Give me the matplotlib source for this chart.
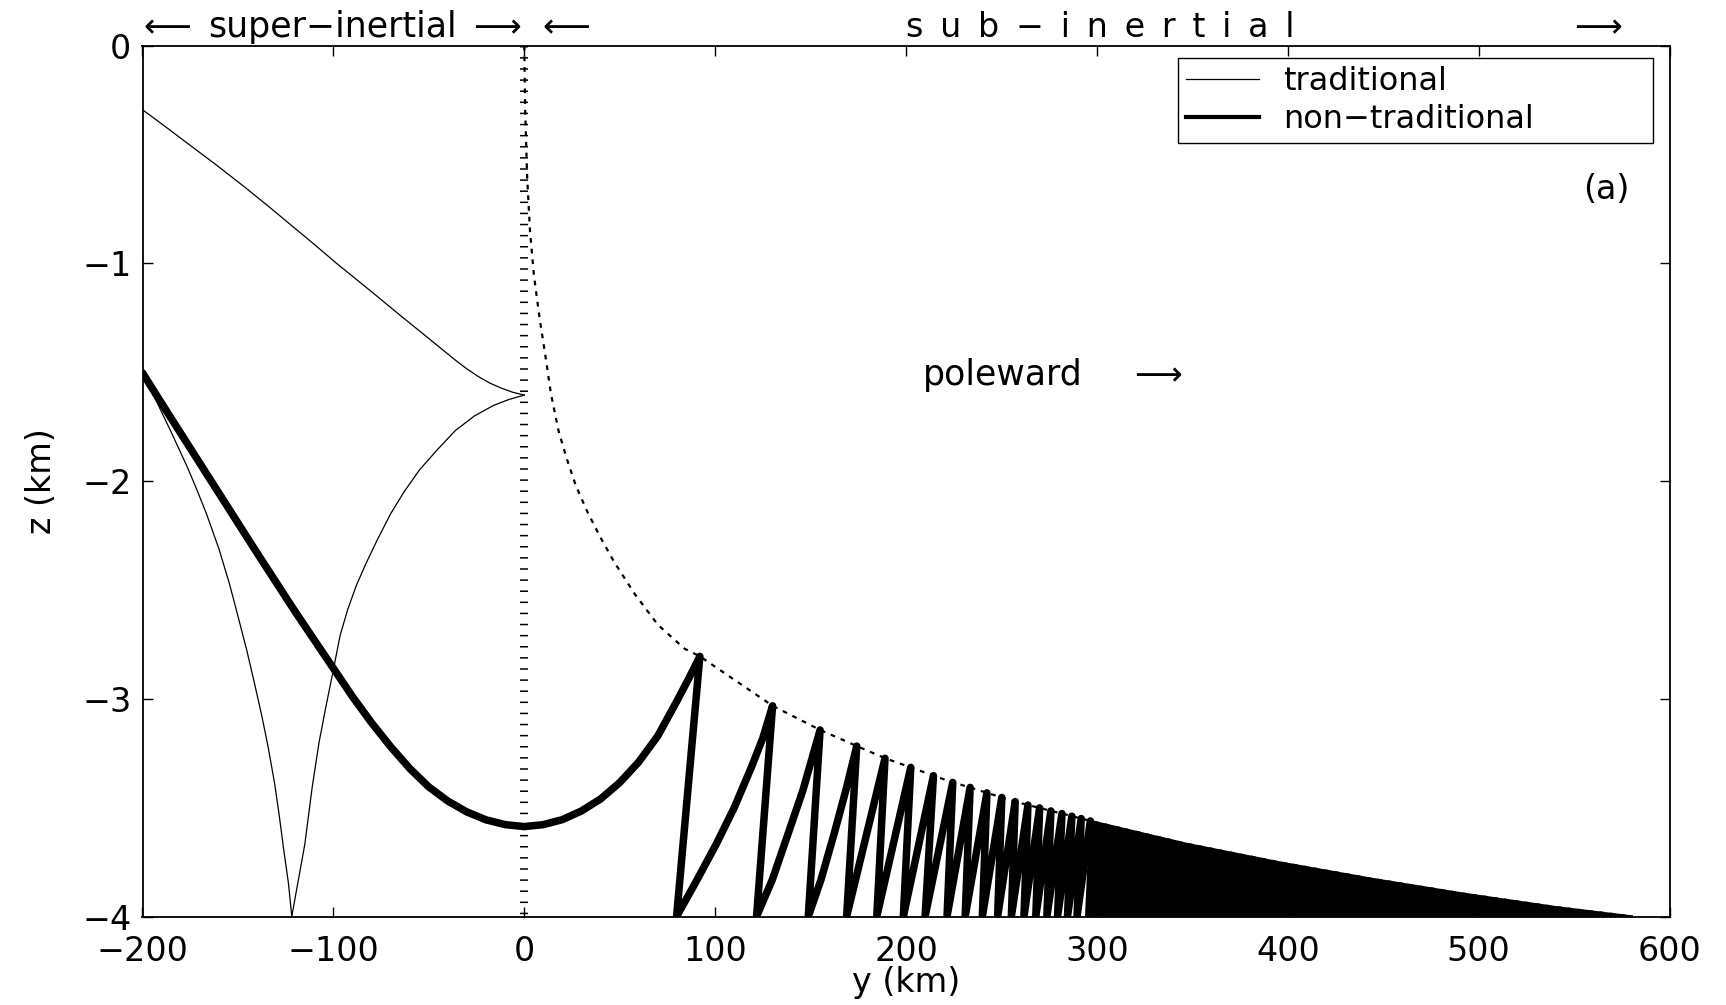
import numpy as np
import matplotlib
matplotlib.use("Agg")
import matplotlib.pyplot as plt
from matplotlib.lines import Line2D

# ---------------- data ----------------
# traditional ray: upper branch (from left edge to the cusp at y=0)
trad_a_y = [-200, -188, -176.5, -161, -146.4, -133, -120, -109, -98.3, -89, -80, -66.2, -50,
            -36, -30, -24, -18, -12, -6, 0]
trad_a_z = [-0.294, -0.372, -0.448, -0.55, -0.65, -0.745, -0.84, -0.92, -1.0, -1.066, -1.13, -1.23,
            -1.345, -1.445, -1.485, -1.52, -1.55, -1.573, -1.592, -1.605]
# traditional ray: from the cusp down to the bottom reflection
trad_b_y = [0, -8, -16, -26, -36, -46, -55, -63, -70, -77, -83, -88, -92.5, -96.5, -100.3,
            -104, -107.5, -111, -115, -118.5, -121.8]
trad_b_z = [-1.605, -1.625, -1.652, -1.70, -1.767, -1.86, -1.95, -2.05, -2.15, -2.27, -2.38, -2.48,
            -2.59, -2.71, -2.88, -3.04, -3.20, -3.40, -3.67, -3.84, -4.0]
# traditional ray: from the bottom back up to the left edge
trad_c_y = [-121.8, -123.5, -126, -128.3, -130.8, -134, -137.4, -141.3, -145.4, -150, -154.5,
            -160, -166.5, -171.5, -176.5, -184.6, -194.6, -200]
trad_c_z = [-4.0, -3.85, -3.694, -3.54, -3.388, -3.23, -3.082, -2.93, -2.776, -2.62, -2.47,
            -2.31, -2.15, -2.04, -1.936, -1.782, -1.598, -1.503]

# non-traditional ray: first long arc
nt_arc_y = [-200, -188, -176, -160, -140, -120, -110, -100, -90, -80, -70, -60, -50, -40, -30,
            -20, -10, 0, 10, 20, 30, 40, 50, 60, 70, 80, 86, 92.0]
nt_arc_z = [-1.503, -1.67, -1.835, -2.055, -2.33, -2.60, -2.73, -2.86, -2.99, -3.11, -3.22, -3.32,
            -3.405, -3.47, -3.52, -3.556, -3.578, -3.587, -3.578, -3.555, -3.515, -3.46, -3.385,
            -3.29, -3.17, -3.01, -2.91, -2.805]
# non-traditional ray: zig-zag peaks (on the envelope) and troughs (on the bottom)
peak_y = [92.0, 130.1, 155.0, 174.2, 189.0, 202.5, 214.4, 224.5, 233.6, 242.4,
          250.2, 257.2, 263.9, 270.0, 275.9, 281.7, 286.9, 291.8, 296.6]
peak_z = [-2.805, -3.032, -3.143, -3.217, -3.273, -3.315, -3.353, -3.384, -3.407, -3.432,
          -3.453, -3.472, -3.488, -3.501, -3.515, -3.527, -3.539, -3.550, -3.561]
trough_y = [79.8, 121.7, 148.8, 168.9, 184.7, 198.6, 210.0, 221.5, 231.0, 240.0,
            248.0, 255.2, 261.8, 268.0, 273.8, 279.4, 284.6, 289.6, 294.3]
# curved middle points of the first rising legs (trough -> next peak)
rise_mid_y = [[90, 100.8, 110, 119.1, 125], [130, 138.3, 146], [155.5, 162.4, 168.5]]
rise_mid_z = [[-3.84, -3.664, -3.50, -3.312, -3.18], [-3.83, -3.618, -3.42], [-3.83, -3.618, -3.42]]
# densely packed part: upper edge of the region filled by the ray
dense_y = [296.6, 346.5, 395.0, 443.6, 492.1, 540.7, 580.8]
dense_z = [-3.561, -3.665, -3.750, -3.826, -3.895, -3.957, -4.0]

# dotted envelope (turning depth) curve
env_y = [0, 0.5, 1.5, 3, 5, 8, 11, 14, 18, 22, 27, 33, 40, 47, 58, 70, 84, 92.0]
env_z = [0, -0.3, -0.6, -0.85, -1.05, -1.25, -1.42, -1.6, -1.77, -1.89, -2.02, -2.14,
         -2.26, -2.37, -2.52, -2.66, -2.77, -2.805]

x_ticks = [-200, -100, 0, 100, 200, 300, 400, 500, 600]
z_ticks = [-4, -3, -2, -1, 0]
bottom_z = -4.0

# ---------------- figure ----------------
plt.rcParams['font.family'] = ['DejaVu Sans']
plt.rcParams['lines.scale_dashes'] = False
W, H = 1726, 1005
fig = plt.figure(figsize=(W / 100, H / 100), dpi=100)
ax = fig.add_axes([142.5 / W, 1 - 916.5 / H, (1669.5 - 142.5) / W, (916.5 - 45.7) / H])

def fx(px):
    return px / W

def fy(py):
    return 1 - py / H

# dotted lines
ax.plot([0, 0], [0, bottom_z], color='k', lw=5.8, dashes=(1.1, 6.9),
        dash_capstyle='butt', zorder=1)
env_full_y = env_y + peak_y[1:] + dense_y[1:]
env_full_z = env_z + peak_z[1:] + dense_z[1:]
ax.plot(env_full_y, env_full_z, color='k', lw=1.6, dashes=(3.4, 4.3), zorder=1)

# traditional ray
for yy, zz in [(trad_a_y, trad_a_z), (trad_b_y, trad_b_z), (trad_c_y, trad_c_z)]:
    ax.plot(yy, zz, color='k', lw=0.9, zorder=2)

# non-traditional ray: arc + zigzag
zy = list(nt_arc_y)
zz = list(nt_arc_z)
for i in range(len(peak_y) - 1):
    zy.append(trough_y[i]); zz.append(bottom_z)
    if i < len(rise_mid_y):
        zy += rise_mid_y[i]; zz += rise_mid_z[i]
    zy.append(peak_y[i + 1]); zz.append(peak_z[i + 1])
ax.plot(zy, zz, color='k', lw=5.4, solid_joinstyle='round', solid_capstyle='round', zorder=3)
# dense region
fill_y = [trough_y[-1]] + dense_y
fill_z = [bottom_z] + dense_z
ax.fill(fill_y, fill_z, color='k', lw=1.5, zorder=3)

ax.set_xlim(-200, 600)
ax.set_ylim(-4, 0)
ax.set_xticks(x_ticks)
ax.set_yticks(z_ticks)
ax.tick_params(direction='in', length=7.2, width=1.0, top=True, right=True,
               labelsize=24, colors='k')
ax.tick_params(axis='x', pad=13)
ax.tick_params(axis='y', pad=8)
for s in ax.spines.values():
    s.set_linewidth(1.3)

ax.set_xlabel('y (km)', fontsize=24, labelpad=-1)
ax.set_ylabel('z (km)', fontsize=24, labelpad=17)

# legend (expanded to the width of the reference box)
ax_w = 1669.5 - 142.5
ax_h = 916.5 - 45.7
lx0 = (1178 - 142.5) / ax_w
lx1 = (1653 - 142.5) / ax_w
ly1 = 1 - (58 - 45.7) / ax_h
h_trad = Line2D([], [], color='k', lw=0.9)
h_nt = Line2D([], [], color='k', lw=3.0)
leg = ax.legend([h_trad, h_nt], ['traditional', 'non\u2212traditional'], loc='upper left',
                bbox_to_anchor=(lx0, ly1 - 0.2, lx1 - lx0, 0.2), mode='expand',
                fontsize=23, frameon=True, fancybox=False, edgecolor='k', framealpha=1,
                handlelength=2.3, handletextpad=0.75, labelspacing=0.22, borderpad=0.25,
                borderaxespad=0)
leg.get_frame().set_linewidth(1.0)

# annotations
ax.text(fx(1629), fy(189), '(a)', transform=fig.transFigure, ha='right', va='center', fontsize=24)
ax.text(fx(1003), fy(385), 'poleward', transform=fig.transFigure, ha='center', va='baseline', fontsize=25)
ax.text(fx(1158), fy(376), '\u27f6', transform=fig.transFigure, ha='center', va='center', fontsize=24)

fig.text(fx(143), fy(37), '\u27f5', ha='left', va='baseline', fontsize=24)
fig.text(fx(332), fy(37), 'super\u2212inertial', ha='center', va='baseline', fontsize=25)
fig.text(fx(521), fy(37), '\u27f6', ha='right', va='baseline', fontsize=24)
fig.text(fx(566), fy(37), '\u27f5', ha='center', va='baseline', fontsize=24)
sub = '\u2002'.join(list('sub')) + '\u2002\u2212\u2002' + '\u2002'.join(list('inertial'))
fig.text(fx(1100), fy(37), sub, ha='center', va='baseline', fontsize=24)
fig.text(fx(1598), fy(37), '\u27f6', ha='center', va='baseline', fontsize=24)

fig.savefig('out.png', dpi=100)
